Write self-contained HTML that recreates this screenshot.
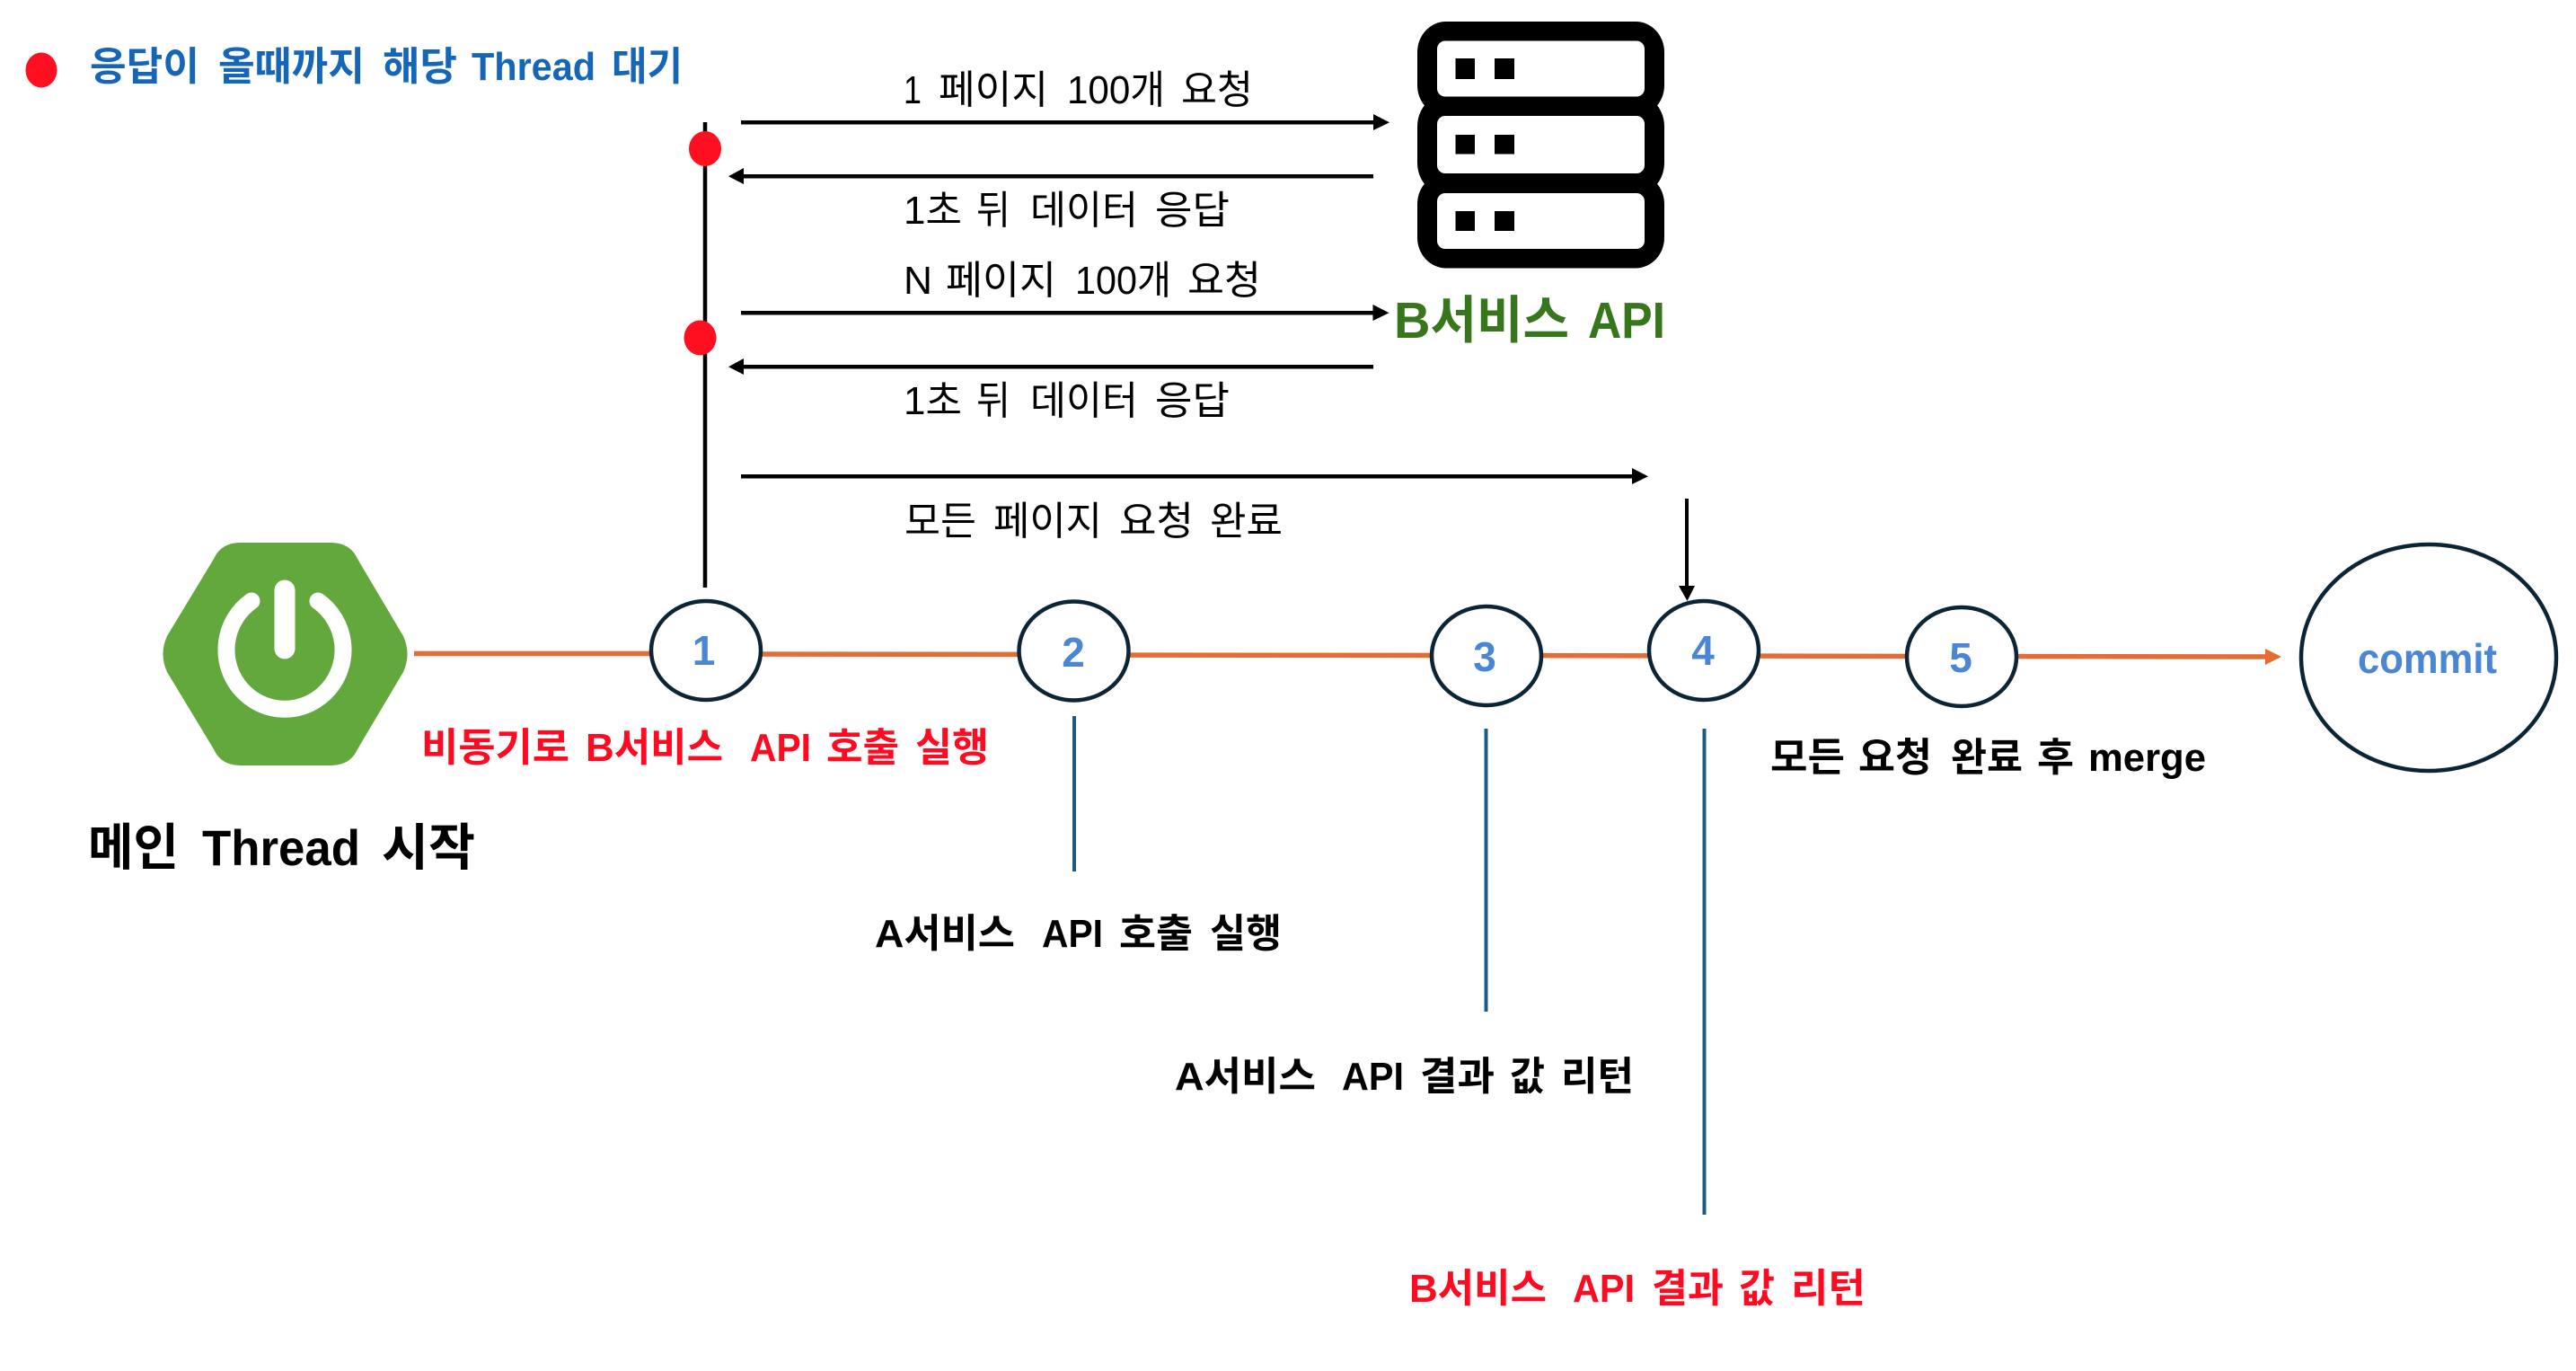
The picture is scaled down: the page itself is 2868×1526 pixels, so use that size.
<!DOCTYPE html>
<html lang="ko"><head><meta charset="utf-8"><title>Thread diagram</title>
<style>
html,body{margin:0;padding:0;background:#fff}
svg{display:block}
text{font-family:"Liberation Sans","Noto Sans CJK KR",sans-serif;white-space:pre}
.r text{font-size:44px;fill:#000}
.b text{font-size:44px;font-weight:700;fill:#000}
.b.red text{fill:#ff0a20}
.n{font-size:46px;font-weight:700;fill:#4a86d3;text-anchor:middle}
</style></head><body>
<svg xmlns="http://www.w3.org/2000/svg" width="2868" height="1526" viewBox="0 0 2868 1526">
<rect width="2868" height="1526" fill="#fff"/>

<!-- legend -->
<ellipse cx="46" cy="78" rx="17.5" ry="19.5" fill="#ff0f1f"/>
<g font-size="44" font-weight="700" fill="#1565b8">
<text x="100" y="89" textLength="122" lengthAdjust="spacingAndGlyphs">응답이</text>
<text x="243" y="89" textLength="163" lengthAdjust="spacingAndGlyphs">올때까지</text>
<text x="426" y="89" textLength="83" lengthAdjust="spacingAndGlyphs">해당</text>
<text x="525" y="89" textLength="138" lengthAdjust="spacingAndGlyphs">Thread</text>
<text x="681" y="89" textLength="79" lengthAdjust="spacingAndGlyphs">대기</text>
</g>

<!-- thread vertical -->
<line x1="785" y1="136" x2="785" y2="654" stroke="#000" stroke-width="4.5"/>
<ellipse cx="785" cy="165.5" rx="18" ry="19.5" fill="#ff0f1f"/>
<ellipse cx="779.5" cy="376" rx="18" ry="19.5" fill="#ff0f1f"/>

<!-- arrows -->
<g fill="#000">
<rect x="825" y="134" width="706" height="4.5"/><path d="M1529 127 L1547 136.2 L1529 145Z"/>
<rect x="826" y="194" width="703" height="4.5"/><path d="M828 187 L811 196.2 L828 205Z"/>
<rect x="825" y="346" width="706" height="4.5"/><path d="M1528.5 339 L1546.5 348.2 L1528.5 357Z"/>
<rect x="826" y="406" width="703" height="4.5"/><path d="M828 399 L811 408.2 L828 417Z"/>
<rect x="825" y="528" width="994" height="4.5"/><path d="M1817 521 L1835 530.2 L1817 539Z"/>
<rect x="1876" y="555" width="4" height="99"/><path d="M1869 652 L1887 652 L1878.5 669Z"/>
</g>

<!-- server icon -->
<g fill="#000">
<rect x="1578" y="24" width="275" height="105" rx="32" ry="34"/>
<rect x="1578" y="107" width="275" height="108" rx="28" ry="34"/>
<rect x="1578" y="193" width="275" height="105.5" rx="32" ry="34"/>
</g>
<g fill="#fff">
<rect x="1600" y="45.5" width="231" height="62" rx="9"/>
<rect x="1600" y="129" width="231" height="64" rx="9"/>
<rect x="1600" y="215" width="231" height="62" rx="9"/>
</g>
<g fill="#000">
<rect x="1620.5" y="65" width="21.5" height="23"/><rect x="1664" y="65" width="22" height="23"/>
<rect x="1620.5" y="150" width="21.5" height="21.5"/><rect x="1664" y="150" width="22" height="21.5"/>
<rect x="1620.5" y="235" width="21.5" height="22"/><rect x="1664" y="235" width="22" height="22"/>
</g>
<g font-size="57" font-weight="700" fill="#38761d">
<text x="1552" y="376" textLength="195" lengthAdjust="spacingAndGlyphs">B서비스</text>
<text x="1768" y="376" textLength="86" lengthAdjust="spacingAndGlyphs">API</text>
</g>

<!-- message labels -->
<g class="r">
<text x="1006" y="115" textLength="20" lengthAdjust="spacingAndGlyphs">1</text>
<text x="1045" y="115" textLength="122" lengthAdjust="spacingAndGlyphs">페이지</text>
<text x="1188" y="115" textLength="109" lengthAdjust="spacingAndGlyphs">100개</text>
<text x="1315" y="115" textLength="80" lengthAdjust="spacingAndGlyphs">요청</text>

<text x="1006" y="249" textLength="65" lengthAdjust="spacingAndGlyphs">1초</text>
<text x="1087" y="249" textLength="38" lengthAdjust="spacingAndGlyphs">뒤</text>
<text x="1147" y="249" textLength="120" lengthAdjust="spacingAndGlyphs">데이터</text>
<text x="1286" y="249" textLength="83" lengthAdjust="spacingAndGlyphs">응답</text>

<text x="1006" y="327" textLength="32" lengthAdjust="spacingAndGlyphs">N</text>
<text x="1053" y="327" textLength="123" lengthAdjust="spacingAndGlyphs">페이지</text>
<text x="1197" y="327" textLength="107" lengthAdjust="spacingAndGlyphs">100개</text>
<text x="1322" y="327" textLength="82" lengthAdjust="spacingAndGlyphs">요청</text>

<text x="1006" y="461" textLength="65" lengthAdjust="spacingAndGlyphs">1초</text>
<text x="1087" y="461" textLength="38" lengthAdjust="spacingAndGlyphs">뒤</text>
<text x="1147" y="461" textLength="120" lengthAdjust="spacingAndGlyphs">데이터</text>
<text x="1286" y="461" textLength="83" lengthAdjust="spacingAndGlyphs">응답</text>

<text x="1007" y="595" textLength="80" lengthAdjust="spacingAndGlyphs">모든</text>
<text x="1106" y="595" textLength="121" lengthAdjust="spacingAndGlyphs">페이지</text>
<text x="1246" y="595" textLength="83" lengthAdjust="spacingAndGlyphs">요청</text>
<text x="1347" y="595" textLength="81" lengthAdjust="spacingAndGlyphs">완료</text>
</g>

<!-- timeline -->
<g stroke="#e46c35" stroke-width="5.5" fill="none">
<line x1="461" y1="727.5" x2="790" y2="727.5"/>
<line x1="790" y1="728" x2="1195" y2="728.5"/>
<line x1="1195" y1="729" x2="1655" y2="729.5"/>
<line x1="1655" y1="729.5" x2="1897" y2="730"/>
<line x1="1897" y1="730" x2="2184" y2="730.5"/>
<line x1="2184" y1="730.5" x2="2526" y2="731"/>
</g>
<path d="M2522 722 L2540 731 L2522 740Z" fill="#e46c35"/>

<!-- circles -->
<g fill="#fff" stroke="#0c2536" stroke-width="4.5">
<ellipse cx="786" cy="724" rx="61" ry="55"/>
<ellipse cx="1195.5" cy="724.5" rx="61" ry="55"/>
<ellipse cx="1655" cy="730" rx="61" ry="55"/>
<ellipse cx="1897" cy="724" rx="61" ry="55"/>
<ellipse cx="2184" cy="731" rx="61" ry="55"/>
<ellipse cx="2704" cy="732" rx="142" ry="126"/>
</g>
<text class="n" x="783.5" y="740">1</text>
<text class="n" x="1195" y="742">2</text>
<text class="n" x="1653" y="747">3</text>
<text class="n" x="1896" y="740">4</text>
<text class="n" x="2183" y="748">5</text>
<text x="2625" y="749" font-size="46" font-weight="700" fill="#4a86d3" textLength="155" lengthAdjust="spacingAndGlyphs">commit</text>

<!-- spring logo -->
<path d="M268 604 H368 Q390 604 398 622 L449 708 Q458 728 449 748 L398 834 Q390 852 368 852 H268 Q246 852 238 834 L186 748 Q177 728 186 708 L238 622 Q246 604 268 604Z" fill="#63a83c"/>
<path d="M280 669 A65 66 0 1 0 354 669" fill="none" stroke="#fff" stroke-width="19" stroke-linecap="round"/>
<line x1="317" y1="657" x2="317" y2="722" stroke="#fff" stroke-width="23" stroke-linecap="round"/>

<!-- drop lines -->
<g stroke="#1f5a80" stroke-width="4" fill="none">
<line x1="1196" y1="797" x2="1196" y2="970"/>
<line x1="1654.5" y1="811" x2="1654.5" y2="1126"/>
<line x1="1897.5" y1="811" x2="1897.5" y2="1352"/>
</g>

<!-- step labels -->
<g class="b red">
<text x="469" y="847" textLength="165" lengthAdjust="spacingAndGlyphs">비동기로</text>
<text x="652" y="847" textLength="153" lengthAdjust="spacingAndGlyphs">B서비스</text>
<text x="835" y="847" textLength="68" lengthAdjust="spacingAndGlyphs">API</text>
<text x="920" y="847" textLength="81" lengthAdjust="spacingAndGlyphs">호출</text>
<text x="1019" y="847" textLength="82" lengthAdjust="spacingAndGlyphs">실행</text>
</g>
<g font-size="56" font-weight="700" fill="#000">
<text x="98" y="963" textLength="101" lengthAdjust="spacingAndGlyphs">메인</text>
<text x="225" y="963" textLength="176" lengthAdjust="spacingAndGlyphs">Thread</text>
<text x="425" y="963" textLength="104" lengthAdjust="spacingAndGlyphs">시작</text>
</g>
<g class="b">
<text x="974" y="1054" textLength="156" lengthAdjust="spacingAndGlyphs">A서비스</text>
<text x="1160" y="1054" textLength="68" lengthAdjust="spacingAndGlyphs">API</text>
<text x="1246" y="1054" textLength="82" lengthAdjust="spacingAndGlyphs">호출</text>
<text x="1347" y="1054" textLength="80" lengthAdjust="spacingAndGlyphs">실행</text>

<text x="1308" y="1213" textLength="157" lengthAdjust="spacingAndGlyphs">A서비스</text>
<text x="1494" y="1213" textLength="69" lengthAdjust="spacingAndGlyphs">API</text>
<text x="1581" y="1213" textLength="83" lengthAdjust="spacingAndGlyphs">결과</text>
<text x="1681" y="1213" textLength="39" lengthAdjust="spacingAndGlyphs">값</text>
<text x="1738" y="1213" textLength="81" lengthAdjust="spacingAndGlyphs">리턴</text>

<text x="1971" y="858" textLength="83" lengthAdjust="spacingAndGlyphs">모든</text>
<text x="2069" y="858" textLength="82" lengthAdjust="spacingAndGlyphs">요청</text>
<text x="2172" y="858" textLength="80" lengthAdjust="spacingAndGlyphs">완료</text>
<text x="2268" y="858" textLength="41" lengthAdjust="spacingAndGlyphs">후</text>
<text x="2325" y="858" textLength="131" lengthAdjust="spacingAndGlyphs">merge</text>
</g>
<g class="b red">
<text x="1569" y="1449" textLength="153" lengthAdjust="spacingAndGlyphs">B서비스</text>
<text x="1751" y="1449" textLength="69" lengthAdjust="spacingAndGlyphs">API</text>
<text x="1839" y="1449" textLength="80" lengthAdjust="spacingAndGlyphs">결과</text>
<text x="1936" y="1449" textLength="40" lengthAdjust="spacingAndGlyphs">값</text>
<text x="1994" y="1449" textLength="83" lengthAdjust="spacingAndGlyphs">리턴</text>
</g>
</svg>
</body></html>
